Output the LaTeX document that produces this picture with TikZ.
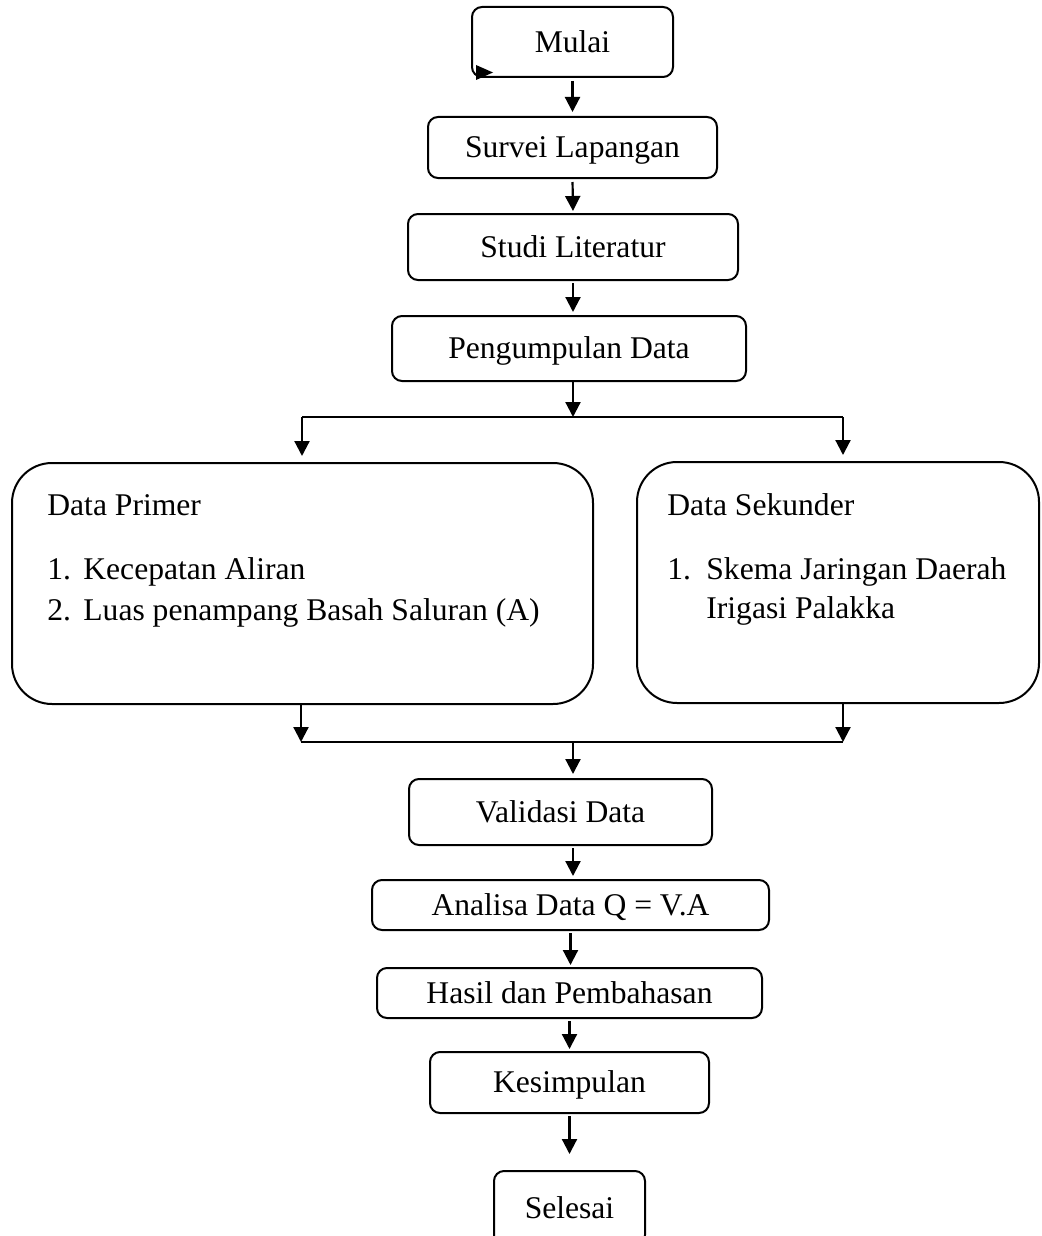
\documentclass[tikz,border=0pt]{standalone}
\usepackage{fontspec}
\setmainfont{Liberation Serif}
\usetikzlibrary{arrows.meta}
\begin{document}
\begin{tikzpicture}[x=0.5pt,y=-0.5pt,
  box/.style={draw, line width=1pt, rounded corners=5pt, inner sep=0pt, text height=10.4pt, text depth=0pt, font=\fontsize{15.8}{19}\selectfont},
  bigbox/.style={draw, line width=1pt, rounded corners=20pt, inner sep=0pt},
  arr/.style={line width=1.1pt, -{Triangle[width=7.5pt,length=7.5pt]}},
  ln/.style={line width=1.1pt},
  txt/.style={font=\fontsize{15.8}{19}\selectfont, inner sep=0pt, anchor=base west}
]
\useasboundingbox (0,0) rectangle (1041,1236);

% boxes
\node[box, minimum width=100.5pt, minimum height=35pt] (mulai) at (572.5,42) {Mulai};
\node[box, minimum width=144.5pt, minimum height=30.5pt] (survei) at (572.5,147.5) {Survei Lapangan};
\node[box, minimum width=165pt, minimum height=33pt] (studi) at (573,247) {Studi Literatur};
\node[box, minimum width=177pt, minimum height=32.5pt] (kumpul) at (569,348.5) {Pengumpulan Data};
\node[bigbox, minimum width=290.5pt, minimum height=120.5pt] (primer) at (302.5,583.5) {};
\node[bigbox, minimum width=201pt, minimum height=120.5pt] (sekunder) at (838,582.5) {};
\node[box, minimum width=151.5pt, minimum height=33pt] (validasi) at (560.5,812) {Validasi Data};
\node[box, minimum width=198.5pt, minimum height=25pt] (analisa) at (570.5,905) {Analisa Data Q = V.A};
\node[box, minimum width=192.5pt, minimum height=25pt] (hasil) at (569.5,993) {Hasil dan Pembahasan};
\node[box, minimum width=139.5pt, minimum height=30.5pt] (kesimpulan) at (569.5,1082.5) {Kesimpulan};
\node[box, minimum width=75.5pt, minimum height=37pt] (selesai) at (569.5,1208) {Selesai};

% texts in big boxes
\node[txt] (ptitle) at (47,515) {Data Primer};
\node[txt] (p1n) at (47,579) {1.};
\node[txt] (p1) at (83,579) {Kecepatan Aliran};
\node[txt] (p2n) at (47,620) {2.};
\node[txt] (p2) at (83,620) {Luas penampang Basah Saluran (A)};
\node[txt] (stitle) at (667,515) {Data Sekunder};
\node[txt] (s1n) at (667,579) {1.};
\node[txt] (s1) at (706,579) {Skema Jaringan Daerah};
\node[txt] (s2) at (706,618) {Irigasi Palakka};

% stray arrowhead at Mulai
\fill (476,65) -- (493,72.5) -- (476,80) -- cycle;

% junction coordinates
\coordinate (jt) at (573,417);
\coordinate (jl) at (302,417);
\coordinate (jr) at (843,417);
\coordinate (bl) at (301,742);
\coordinate (br) at (843,742);
\coordinate (bm) at (573,742);

% connectors
\draw[arr, shorten <=1.5pt, shorten >=2pt] (mulai.south) -- (survei.north);
\draw[arr, shorten <=1.5pt, shorten >=1pt] (survei.south) -- (studi.north);
\draw[arr, shorten <=1pt, shorten >=1.5pt] (studi.south) -- (studi.south |- kumpul.north);
\draw[arr] (kumpul.south -| jt) -- (jt);
\draw[ln] (jl) -- (jr);
\draw[arr, shorten >=3pt] (jl) -- (jl |- primer.north);
\draw[arr, shorten >=3pt] (jr) -- (jr |- sekunder.north);
\draw[arr] (primer.south -| bl) -- (bl);
\draw[arr] (sekunder.south -| br) -- (br);
\draw[ln] (bl) -- (br);
\draw[arr, shorten >=2pt] (bm) -- (bm |- validasi.north);
\draw[arr, shorten <=1pt, shorten >=1.5pt] (validasi.south -| bm) -- (bm |- analisa.north);
\draw[arr, shorten <=1pt, shorten >=1pt] (analisa.south) -- (hasil.north -| analisa.south);
\draw[arr, shorten <=1pt, shorten >=1pt] (hasil.south) -- (kesimpulan.north);
\draw[arr, shorten <=1pt, shorten >=8pt] (kesimpulan.south) -- (selesai.north);
\end{tikzpicture}
\end{document}
